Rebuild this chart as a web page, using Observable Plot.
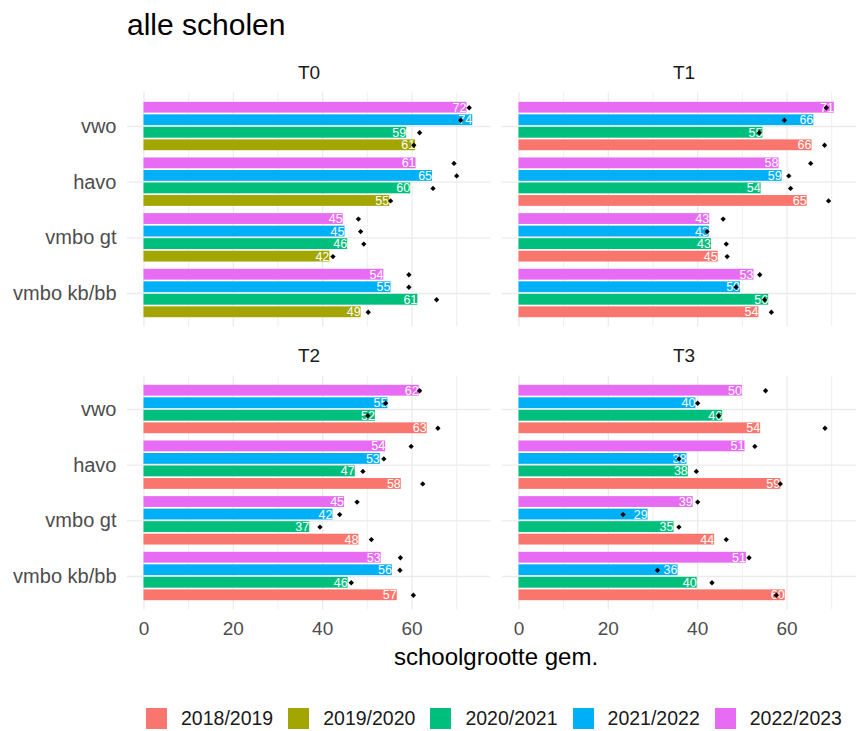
<!DOCTYPE html>
<html><head><meta charset="utf-8">
<script src="https://cdn.jsdelivr.net/npm/d3@7"></script>
<script src="https://cdn.jsdelivr.net/npm/@observablehq/plot@0.6"></script>
<style>
body{margin:0;background:#fff;overflow:hidden;font-family:"Liberation Sans",Arial,sans-serif;}
#wrap{position:relative;width:856px;height:731px;overflow:hidden;}
#title{position:absolute;left:127px;top:9.6px;font-size:30px;line-height:30px;color:#000;white-space:nowrap;}
#chart{position:absolute;left:0;top:50px;width:866px;}
#chart svg{display:block;max-width:none !important;width:866px;height:595px;}
#xlabel{position:absolute;left:127px;width:738px;top:645px;height:24px;line-height:24px;font-size:24px;text-align:center;color:#000;}
#legend{position:absolute;left:146px;top:708px;display:flex;align-items:center;}
.item{display:flex;align-items:center;margin-right:15px;}
.key{width:21px;height:21px;margin-right:14px;}
.lab{font-size:19.5px;line-height:21px;color:#1a1a1a;white-space:nowrap;}
</style></head>
<body>
<div id="wrap">
  <div id="title">alle scholen</div>
  <div id="chart"></div>
  <div id="xlabel">schoolgrootte gem.</div>
  <div id="legend"></div>
</div>
<script>
// ---- data ----
const categories = ["vwo", "havo", "vmbo gt", "vmbo kb/bb"];
const seasons = ["2018/2019", "2019/2020", "2020/2021", "2021/2022", "2022/2023"];
const seasonColors = ["#F8766D", "#A3A500", "#00BF7D", "#00B0F6", "#E76BF3"];
const panels = ["T0", "T1", "T2", "T3"];
const panelSeasons = {
  T0: ["2019/2020", "2020/2021", "2021/2022", "2022/2023"],
  T1: ["2018/2019", "2020/2021", "2021/2022", "2022/2023"],
  T2: ["2018/2019", "2020/2021", "2021/2022", "2022/2023"],
  T3: ["2018/2019", "2020/2021", "2021/2022", "2022/2023"]
};
// values in category order: vwo, havo, vmbo gt, vmbo kb/bb
const barsT0 = {
  "2019/2020": [60.8, 55.0, 41.6, 48.6],
  "2020/2021": [58.8, 59.7, 45.6, 61.3],
  "2021/2022": [73.6, 64.6, 45.0, 55.3],
  "2022/2023": [72.3, 60.9, 44.6, 53.7]
};
const pointsT0 = {
  "2019/2020": [60.4, 55.2, 42.3, 50.2],
  "2020/2021": [61.7, 64.7, 49.2, 65.5],
  "2021/2022": [70.9, 70.0, 48.5, 59.3],
  "2022/2023": [72.8, 69.4, 48.0, 59.3]
};
const barsT1 = {
  "2018/2019": [65.6, 64.5, 44.6, 53.7],
  "2020/2021": [54.6, 54.2, 43.1, 55.9],
  "2021/2022": [66.0, 58.9, 42.6, 49.6],
  "2022/2023": [70.6, 58.2, 42.7, 52.6]
};
const pointsT1 = {
  "2018/2019": [68.4, 69.3, 46.6, 56.5],
  "2020/2021": [53.8, 60.8, 46.4, 55.0],
  "2021/2022": [59.4, 60.4, 42.1, 48.6],
  "2022/2023": [68.8, 65.3, 45.7, 53.9]
};
const barsT2 = {
  "2018/2019": [63.4, 57.6, 48.1, 56.7],
  "2020/2021": [51.8, 47.3, 37.1, 45.7],
  "2021/2022": [54.6, 52.9, 42.3, 55.6],
  "2022/2023": [61.6, 54.1, 44.9, 53.1]
};
const pointsT2 = {
  "2018/2019": [65.8, 62.4, 50.9, 60.3],
  "2020/2021": [50.1, 49.0, 39.4, 46.4],
  "2021/2022": [54.1, 53.7, 43.8, 57.3],
  "2022/2023": [61.7, 59.8, 47.7, 57.4]
};
const barsT3 = {
  "2018/2019": [54.1, 58.6, 43.8, 59.6],
  "2020/2021": [45.6, 37.9, 34.7, 39.9],
  "2021/2022": [39.6, 37.6, 28.9, 35.6],
  "2022/2023": [50.0, 50.6, 39.0, 50.9]
};
const pointsT3 = {
  "2018/2019": [68.5, 58.5, 46.4, 57.6],
  "2020/2021": [44.7, 39.7, 35.8, 43.2],
  "2021/2022": [40.0, 35.8, 23.3, 31.0],
  "2022/2023": [55.2, 52.8, 40.0, 51.5]
};
const xTicks = [0, 20, 40, 60];
const xMinor = [10, 30, 50, 70];

// ---- table built from the arrays ----
const barSets = {T0: barsT0, T1: barsT1, T2: barsT2, T3: barsT3};
const pointSets = {T0: pointsT0, T1: pointsT1, T2: pointsT2, T3: pointsT3};
const dodge = 0.9 / 4;
const rows = [];
panels.forEach((p, i) => {
  panelSeasons[p].forEach((s, k) => {
    categories.forEach((c, j) => {
      const pos = categories.length - j;
      const yc = pos + (k - 1.5) * dodge;
      rows.push({
        panel: p, col: i % 2, row: Math.floor(i / 2), cat: c, season: s,
        value: barSets[p][s][j], point: pointSets[p][s][j],
        yc, y1: yc - dodge / 2, y2: yc + dodge / 2
      });
    });
  });
});
const strips = panels.map((p, i) => ({label: p, col: i % 2, row: Math.floor(i / 2)}));

const font = "'Liberation Sans', Arial, sans-serif";
const chart = Plot.plot({
  width: 866,
  height: 595,
  marginTop: 42.6,
  marginBottom: 35.6,
  marginLeft: 127,
  marginRight: 1,
  style: {fontFamily: font, background: "white", overflow: "visible", maxWidth: "none"},
  fx: {axis: null, domain: [0, 1], paddingInner: 12 / 375, paddingOuter: 0, round: false},
  fy: {axis: null, domain: [0, 1], paddingInner: 49.2 / 283, paddingOuter: 0, round: false},
  x: {domain: [-3.69, 77.57], label: null},
  y: {domain: [0.4, 4.6], label: null},
  color: {domain: seasons, range: seasonColors},
  marks: [
    Plot.ruleX(xMinor, {stroke: "#ebebeb", strokeWidth: 0.8}),
    Plot.ruleX(xTicks, {stroke: "#ebebeb", strokeWidth: 1.3}),
    Plot.ruleY([1, 2, 3, 4], {stroke: "#ebebeb", strokeWidth: 1.3}),
    Plot.rect(rows, {fx: "col", fy: "row", x1: 0, x2: "value", y1: "y1", y2: "y2",
      fill: "season", insetTop: 0.85, insetBottom: 0.85}),
    Plot.text(rows, {fx: "col", fy: "row", x: "value", y: "yc", text: d => String(Math.round(d.value)),
      textAnchor: "end", lineAnchor: "middle", dx: -0.5, fill: "white", fontSize: 12.5}),
    Plot.dot(rows, {fx: "col", fy: "row", x: "point", y: "yc", symbol: "diamond2", r: 2.4, fill: "black", stroke: "none"}),
    Plot.text(strips, {fx: "col", fy: "row", text: "label", frameAnchor: "top", dy: -20.6,
      lineAnchor: "middle", fontSize: 19, fill: "#1a1a1a"}),
    Plot.axisX({ticks: xTicks, tickSize: 0, tickPadding: 12, fontSize: 19, color: "#4d4d4d", label: null}),
    Plot.axisY({ticks: [1, 2, 3, 4], tickFormat: d => categories[categories.length - d],
      tickSize: 0, tickPadding: 11, fontSize: 20, color: "#4d4d4d", label: null})
  ]
});
document.getElementById("chart").appendChild(chart);

// legend
const legend = document.getElementById("legend");
seasons.forEach((s, i) => {
  const item = document.createElement("div");
  item.className = "item";
  const key = document.createElement("div");
  key.className = "key";
  key.style.background = seasonColors[i];
  const lab = document.createElement("span");
  lab.className = "lab";
  lab.textContent = s;
  item.appendChild(key);
  item.appendChild(lab);
  legend.appendChild(item);
});
</script>
</body></html>
